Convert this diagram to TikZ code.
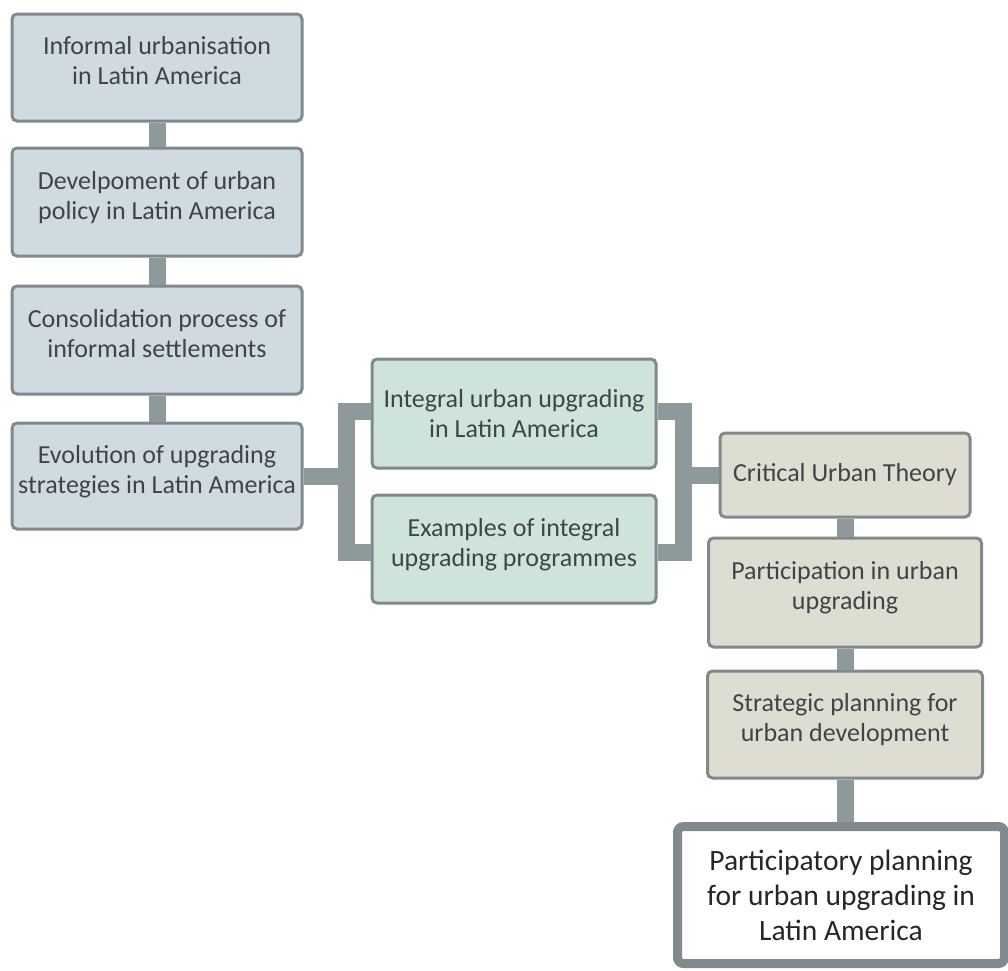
\documentclass[tikz,border=0pt]{standalone}
\usepackage{fontspec}
\setmainfont{Carlito}
\usetikzlibrary{positioning, calc}
\definecolor{boxline}{RGB}{128,137,140}
\definecolor{linkgray}{RGB}{142,153,155}
\definecolor{bluebox}{RGB}{207,219,225}
\definecolor{greenbox}{RGB}{206,228,218}
\definecolor{sandbox}{RGB}{222,221,210}
\definecolor{txtgray}{RGB}{62,68,72}
\tikzset{
	topic/.style={draw=boxline, line width=3pt, rounded corners=5pt, align=center, text=txtgray, inner sep=0pt, font=\fontsize{26}{30}\selectfont},
	lifted/.style={text depth=14pt},
	goal/.style={draw=boxline, line width=9pt, rounded corners=6pt, fill=white, align=center, text=black!85, inner sep=0pt, font=\fontsize{29.5}{35}\selectfont},
	link/.style={draw=linkgray, line width=17pt}
}

\begin{document}
\begin{tikzpicture}[x=1pt, y=-1pt]
	\useasboundingbox (0,0) rectangle (1008,970);

	% left column
	\node[topic, lifted, fill=bluebox, minimum width=290pt, minimum height=107pt] (B1) at (157,67.5)	{Informal urbanisation\\in Latin America};
	\node[topic, lifted, fill=bluebox, minimum width=290pt, minimum height=108pt] (B2) at (157,202)	{Develpoment of urban\\policy in Latin America};
	\node[topic, lifted, fill=bluebox, minimum width=290pt, minimum height=108pt] (B3) at (157,340)	{Consolidation process of\\informal settlements};
	\node[topic, lifted, fill=bluebox, minimum width=290pt, minimum height=106pt] (B4) at (157,476)	{Evolution of upgrading\\strategies in Latin America};

	% middle column
	\node[topic, fill=greenbox, minimum width=284pt, minimum height=109pt] (B5) at (514,413.5)	{Integral urban upgrading\\in Latin America};
	\node[topic, lifted, fill=greenbox, minimum width=284pt, minimum height=108pt] (B6) at (514,549)	{Examples of integral\\upgrading programmes};

	% right column
	\node[topic, fill=sandbox, minimum width=250pt, minimum height=84pt] (B7) at (845,475)	{Critical Urban Theory};
	\node[topic, lifted, fill=sandbox, minimum width=273pt, minimum height=109pt] (B8) at (845,592.5)	{Participation in urban\\upgrading};
	\node[topic, lifted, fill=sandbox, minimum width=275pt, minimum height=107pt] (B9) at (845,724.5)	{Strategic planning for\\urban development};
	\node[goal, minimum width=327pt, minimum height=137pt] (B10) at (841,895)	{Participatory planning\\for urban upgrading in\\Latin America};

	\coordinate (forkL) at (346,478);
	\coordinate (forkR) at (682.5,477);

	\path (B1) edge[link] (B2);
	\path (B2) edge[link] (B3);
	\path (B3) edge[link] (B4);
	\path (B7) edge[link] (B8);
	\path (B8) edge[link] (B9);
	\draw[link] (B9.south) -- (B9.south |- B10.north);

	\draw[link] ([yshift=2pt]B5.west) -- ++(-24.5,0) |- ([yshift=-3.5pt]B6.west);
	\draw[link] (B4.east) -- (B4.east -| forkL);
	\draw[link] ([yshift=2pt]B5.east) -- ++(26,0) |- ([yshift=-3.5pt]B6.east);
	\draw[link] (B7.west -| forkR) -- (B7.west);
\end{tikzpicture}
\end{document}
